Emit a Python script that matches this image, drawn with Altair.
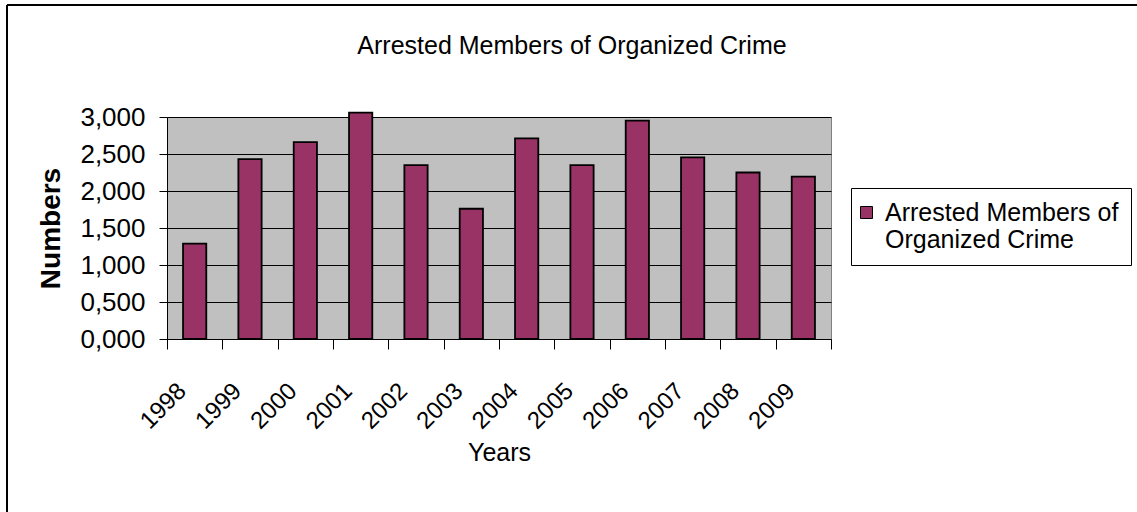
import altair as alt
import pandas as pd

# ---- data ----
years = [1998, 1999, 2000, 2001, 2002, 2003, 2004, 2005, 2006, 2007, 2008, 2009]
arrests = [1290, 2430, 2660, 3060, 2350, 1760, 2710, 2350, 2950, 2455, 2250, 2195]
series_name = "Arrested Members of Organized Crime"
legend_lines = ["Arrested Members of", "Organized Crime"]
y_ticks = [0, 500, 1000, 1500, 2000, 2500, 3000]
x_ticks = [1997.5 + i for i in range(13)]

df = pd.DataFrame({"year": years, "value": arrests, "series": series_name})

FONT = "Liberation Sans"
BAR = "#993366"

bars = alt.Chart(df).transform_calculate(
    x0="datum.year - 0.21", x1="datum.year + 0.21"
).mark_bar(stroke="black", strokeWidth=1.8).encode(
    x=alt.X(
        "x0:Q",
        scale=alt.Scale(domain=[1997.5, 2009.5], nice=False, zero=False),
        axis=alt.Axis(
            values=x_ticks,
            title="Years",
            labelExpr="datum.value < 2009 ? format(datum.value + 0.5, 'd') : ''",
            labelAngle=-45,
            labelAlign="right",
            labelBaseline="middle",
            labelOffset=15,
            labelPadding=38,
            labelFlush=False,
            labelOverlap=False,
            labelFont=FONT,
            labelFontSize=24,
            labelColor="black",
            tickSize=10,
            tickColor="black",
            domainColor="black",
            grid=False,
            titleFont=FONT,
            titleFontSize=25,
            titleFontWeight="normal",
            titleColor="black",
            titleX=332,
            titleY=113,
            titleAlign="center",
            titleBaseline="middle",
        ),
    ),
    x2="x1:Q",
    y=alt.Y(
        "value:Q",
        scale=alt.Scale(domain=[0, 3000], nice=False),
        axis=alt.Axis(
            values=y_ticks,
            title="Numbers",
            labelExpr="replace(format(datum.value / 1000, '.3f'), '.', ',')",
            labelFont=FONT,
            labelFontSize=26,
            labelColor="black",
            labelPadding=14,
            tickSize=8,
            tickColor="black",
            domainColor="black",
            gridColor="black",
            gridWidth=1,
            titleFont=FONT,
            titleFontSize=28,
            titleFontWeight="bold",
            titleColor="black",
            titleAngle=-90,
            titleX=-116,
            titleY=111,
            titleAlign="center",
            titleBaseline="middle",
        ),
    ),
    y2=alt.datum(0),
    color=alt.Color(
        "series:N",
        scale=alt.Scale(range=[BAR]),
        legend=alt.Legend(
            title=None,
            orient="none",
            legendX=684,
            legendY=71,
            padding=12,
            strokeColor="black",
            fillColor="white",
            symbolType="square",
            symbolSize=144,
            symbolOffset=-9,
            symbolStrokeColor="black",
            symbolStrokeWidth=1,
            labelFont=FONT,
            labelFontSize=25,
            labelColor="black",
            labelOffset=6,
            labelLimit=400,
            labelExpr="['" + legend_lines[0] + "', '" + legend_lines[1] + "']",
        ),
    ),
)

frame = pd.DataFrame({"k": [0]})
left_line = alt.Chart(frame).mark_rule(color="black", strokeWidth=2).encode(
    x=alt.value(-160), y=alt.value(-112), y2=alt.value(395)
)
top_line = alt.Chart(frame).mark_rule(color="black", strokeWidth=2).encode(
    x=alt.value(-160), x2=alt.value(970), y=alt.value(-112)
)

chart = alt.layer(bars, left_line, top_line).properties(
    width=664,
    height=222,
    padding={"left": 167, "top": 117, "right": 306, "bottom": 173},
    autosize=alt.AutoSizeParams(type="none"),
    background="white",
    title=alt.TitleParams(
        text=series_name,
        font=FONT,
        fontSize=25,
        fontWeight="normal",
        color="black",
        anchor="middle",
        dx=73,
        dy=55,
        offset=0,
    ),
).configure_view(
    fill="#C0C0C0", stroke="#808080", strokeWidth=1
)

chart.save("out.html", embed_options={"renderer": "svg", "actions": False})
